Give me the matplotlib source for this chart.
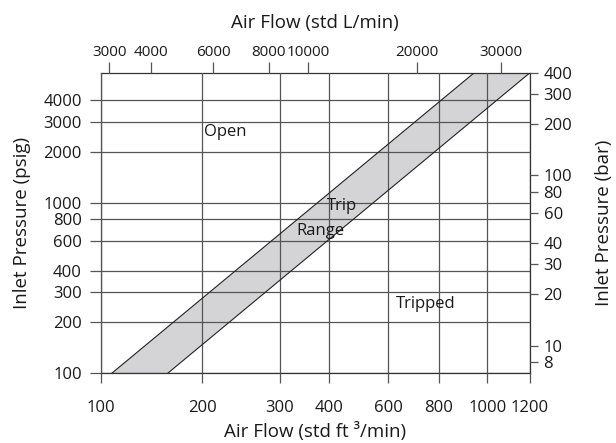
import numpy as np
import matplotlib
matplotlib.use("Agg")
import matplotlib.pyplot as plt
import matplotlib.ticker as ticker
from matplotlib.patches import Polygon

# --- data ---
flow_ticks_cfm = [100, 200, 300, 400, 600, 800, 1000, 1200]
flow_ticks_lpm = [3000, 4000, 6000, 8000, 10000, 20000, 30000]
pressure_ticks_psig = [100, 200, 300, 400, 600, 800, 1000, 2000, 3000, 4000]
pressure_ticks_bar = [8, 10, 20, 30, 40, 60, 80, 100, 200, 300, 400]

# trip range band corners (flow std ft3/min, inlet pressure psig)
band_flow = [107.8, 157.9, 1200, 942]
band_psig = [100, 100, 5802, 5802]

region_names = ["Open", "Trip", "Range", "Tripped"]

CFM_TO_LPM = 28.3168
PSI_PER_BAR = 14.5038
FLOW_LIM = (100, 1200)
PSIG_LIM = (100, 400 * PSI_PER_BAR + 0.5)

# the printed flow axis is only roughly logarithmic, spacing of the
# printed ticks (fraction of axis width)
FLOW_SPACING = [0, 0.2367, 0.4177, 0.5318, 0.6693, 0.7874, 0.9006, 1.0]
_logf = np.log10(flow_ticks_cfm)


def flow_fwd(x):
    x = np.asarray(x, dtype=float)
    with np.errstate(divide="ignore", invalid="ignore"):
        lx = np.log10(np.clip(x, 1e-6, None))
    return np.interp(lx, _logf, FLOW_SPACING)


def flow_inv(t):
    t = np.asarray(t, dtype=float)
    return 10 ** np.interp(t, FLOW_SPACING, _logf)


plt.rcParams["font.family"] = ["Open Sans", "DejaVu Sans"]
TXT = "#1a1a1a"
GRID = "#555555"

fig = plt.figure(figsize=(6.16, 4.43), dpi=100)
ax = fig.add_axes([0.1635, 0.1573, 0.6969, 0.6786])

ax.set_xscale("function", functions=(flow_fwd, flow_inv))
ax.set_yscale("log")
ax.set_xlim(*FLOW_LIM)
ax.set_ylim(*PSIG_LIM)

# trip range band
verts = np.column_stack([band_flow, band_psig])
ax.add_patch(Polygon(verts, closed=True, facecolor="#d4d4d6",
                     edgecolor="none", zorder=1))
ax.plot([band_flow[0], band_flow[3]], [band_psig[0], band_psig[3]],
        color="#222222", lw=0.8, zorder=3)
ax.plot([band_flow[1], band_flow[2]], [band_psig[1], band_psig[2]],
        color="#222222", lw=0.8, zorder=3)

ax.xaxis.set_major_locator(ticker.FixedLocator(flow_ticks_cfm))
ax.xaxis.set_minor_locator(ticker.NullLocator())
ax.set_xticklabels([str(v) for v in flow_ticks_cfm])
ax.yaxis.set_major_locator(ticker.FixedLocator(pressure_ticks_psig))
ax.yaxis.set_minor_locator(ticker.NullLocator())
ax.set_yticklabels([str(v) for v in pressure_ticks_psig])
ax.grid(True, color=GRID, lw=0.9, zorder=2)
ax.set_axisbelow(False)

ax.tick_params(axis="x", direction="out", length=7.2, width=0.9,
               color=GRID, pad=12, labelsize=12, labelcolor=TXT)
ax.tick_params(axis="y", direction="out", length=7.7, width=0.9,
               color=GRID, pad=6, labelsize=12, labelcolor=TXT)
for s in ax.spines.values():
    s.set_color("#333333")
    s.set_linewidth(0.9)

ax.set_xlabel("Air Flow (std ft ³/min)", fontsize=13.5, color=TXT, labelpad=4)
ax.set_ylabel("Inlet Pressure (psig)", fontsize=13.5, color=TXT, labelpad=9)

# top axis, std L/min
ax_top = ax.twiny()
ax_top.set_xscale("function", functions=(flow_fwd, flow_inv))
ax_top.set_xlim(*FLOW_LIM)
ax_top.xaxis.set_major_locator(
    ticker.FixedLocator([v / CFM_TO_LPM for v in flow_ticks_lpm]))
ax_top.xaxis.set_minor_locator(ticker.NullLocator())
ax_top.set_xticklabels([str(v) for v in flow_ticks_lpm])
ax_top.tick_params(axis="x", direction="out", length=7.9, width=0.9,
                   color=GRID, pad=1.5, labelsize=11, labelcolor=TXT)
ax_top.set_xlabel("Air Flow (std L/min)", fontsize=13.5, color=TXT, labelpad=12)
for s in ax_top.spines.values():
    s.set_visible(False)

# right axis, bar
ax_r = ax.twinx()
ax_r.set_yscale("log")
ax_r.set_ylim(PSIG_LIM[0] / PSI_PER_BAR, PSIG_LIM[1] / PSI_PER_BAR)
ax_r.yaxis.set_major_locator(ticker.FixedLocator(pressure_ticks_bar))
ax_r.yaxis.set_minor_locator(ticker.NullLocator())
ax_r.set_yticklabels([str(v) for v in pressure_ticks_bar])
ax_r.tick_params(axis="y", direction="out", length=5.8, width=0.9,
                 color=GRID, pad=4, labelsize=12, labelcolor=TXT)
ax_r.set_ylabel("Inlet Pressure (bar)", fontsize=13.5, color=TXT, labelpad=16)
for s in ax_r.spines.values():
    s.set_visible(False)

# region labels (axes fraction)
ax.text(0.241, 0.803, region_names[0], transform=ax.transAxes, fontsize=12,
        ha="left", va="center", color=TXT, zorder=5)
ax.text(0.561, 0.556, region_names[1], transform=ax.transAxes, fontsize=12,
        ha="center", va="center", color=TXT, zorder=5)
ax.text(0.512, 0.474, region_names[2], transform=ax.transAxes, fontsize=12,
        ha="center", va="center", color=TXT, zorder=5)
ax.text(0.756, 0.229, region_names[3], transform=ax.transAxes, fontsize=12,
        ha="center", va="center", color=TXT, zorder=5)

fig.savefig("out.png", dpi=100)
